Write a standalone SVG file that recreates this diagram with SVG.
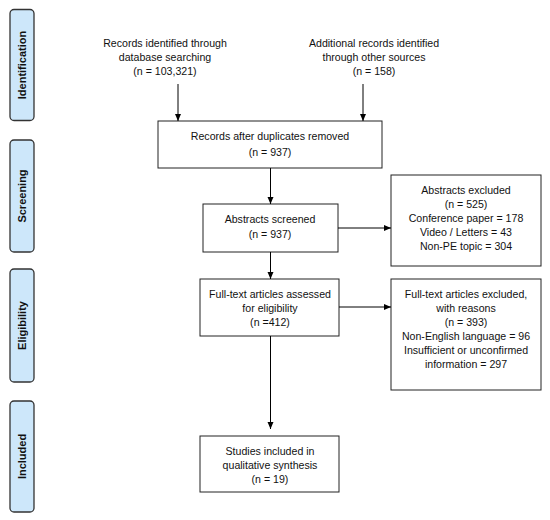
<svg xmlns="http://www.w3.org/2000/svg" width="550" height="520" viewBox="0 0 550 520">
<defs>
<marker id="ah" markerWidth="8" markerHeight="8" refX="7" refY="4" orient="auto" markerUnits="userSpaceOnUse">
<path d="M0,1 L7,4 L0,7 Z" fill="#000"/>
</marker>
<style>
.box{fill:#fff;stroke:#222;stroke-width:1}
.side{fill:#cde7fa;stroke:#333;stroke-width:1.3}
.t{font-family:"Liberation Sans",Arial,sans-serif;font-size:10.6px;fill:#111;text-anchor:middle}
.s{font-family:"Liberation Sans",Arial,sans-serif;font-size:11px;font-weight:bold;fill:#111;text-anchor:middle}
.c{stroke:#000;stroke-width:1;fill:none;marker-end:url(#ah)}
</style>
</defs>
<rect width="550" height="520" fill="#fff"/>
<g id="phase-identification"><rect class="side" x="10" y="9.5" width="24" height="111" rx="4"/><text class="s" transform="translate(26,65) rotate(-90)">Identification</text></g>
<g id="phase-screening"><rect class="side" x="10" y="140" width="24" height="112" rx="4"/><text class="s" transform="translate(26,196) rotate(-90)">Screening</text></g>
<g id="phase-eligibility"><rect class="side" x="10" y="269" width="24" height="113" rx="4"/><text class="s" transform="translate(26,325.5) rotate(-90)">Eligibility</text></g>
<g id="phase-included"><rect class="side" x="10" y="401" width="24" height="111" rx="4"/><text class="s" transform="translate(26,456.5) rotate(-90)">Included</text></g>

<g id="db-records"><text class="t" x="165" y="47">Records identified through</text><text class="t" x="165" y="61">database searching</text><text class="t" x="165" y="75">(n = 103,321)</text></g>
<g id="other-records"><text class="t" x="374" y="47">Additional records identified</text><text class="t" x="374" y="61">through other sources</text><text class="t" x="374" y="75">(n = 158)</text></g>
<g id="dedup"><rect class="box" x="158" y="121" width="224" height="47"/><text class="t" x="270" y="140">Records after duplicates removed</text><text class="t" x="270" y="156">(n = 937)</text></g>
<g id="screened"><rect class="box" x="203" y="204" width="135" height="48"/><text class="t" x="270" y="223">Abstracts screened</text><text class="t" x="270" y="238">(n = 937)</text></g>
<g id="abs-excluded"><rect class="box" x="391" y="175" width="150" height="91"/><text class="t" x="466" y="194">Abstracts excluded</text><text class="t" x="466" y="208">(n = 525)</text><text class="t" x="466" y="222">Conference paper = 178</text><text class="t" x="466" y="236">Video / Letters = 43</text><text class="t" x="466" y="250">Non-PE topic = 304</text></g>
<g id="fulltext"><rect class="box" x="200" y="279" width="139" height="57"/><text class="t" x="270" y="298">Full-text articles assessed</text><text class="t" x="270" y="312">for eligibility</text><text class="t" x="270" y="326">(n =412)</text></g>
<g id="ft-excluded"><rect class="box" x="391" y="279" width="150" height="111"/><text class="t" x="466" y="298">Full-text articles excluded,</text><text class="t" x="466" y="312">with reasons</text><text class="t" x="466" y="326">(n = 393)</text><text class="t" x="466" y="340">Non-English language = 96</text><text class="t" x="466" y="354">Insufficient or unconfirmed</text><text class="t" x="466" y="368">information = 297</text></g>
<g id="included"><rect class="box" x="200" y="436" width="139" height="56"/><text class="t" x="270" y="455">Studies included in</text><text class="t" x="270" y="469">qualitative synthesis</text><text class="t" x="270" y="483">(n = 19)</text></g>

<g id="connectors">
<line class="c" x1="178" y1="84" x2="178" y2="121"/>
<line class="c" x1="363" y1="84" x2="363" y2="121"/>
<line class="c" x1="270.5" y1="168" x2="270.5" y2="204"/>
<line class="c" x1="338" y1="228" x2="391" y2="228"/>
<line class="c" x1="270.5" y1="252" x2="270.5" y2="279"/>
<line class="c" x1="339" y1="307" x2="391" y2="307"/>
<line class="c" x1="270.5" y1="336" x2="270.5" y2="429"/>
</g>
</svg>
